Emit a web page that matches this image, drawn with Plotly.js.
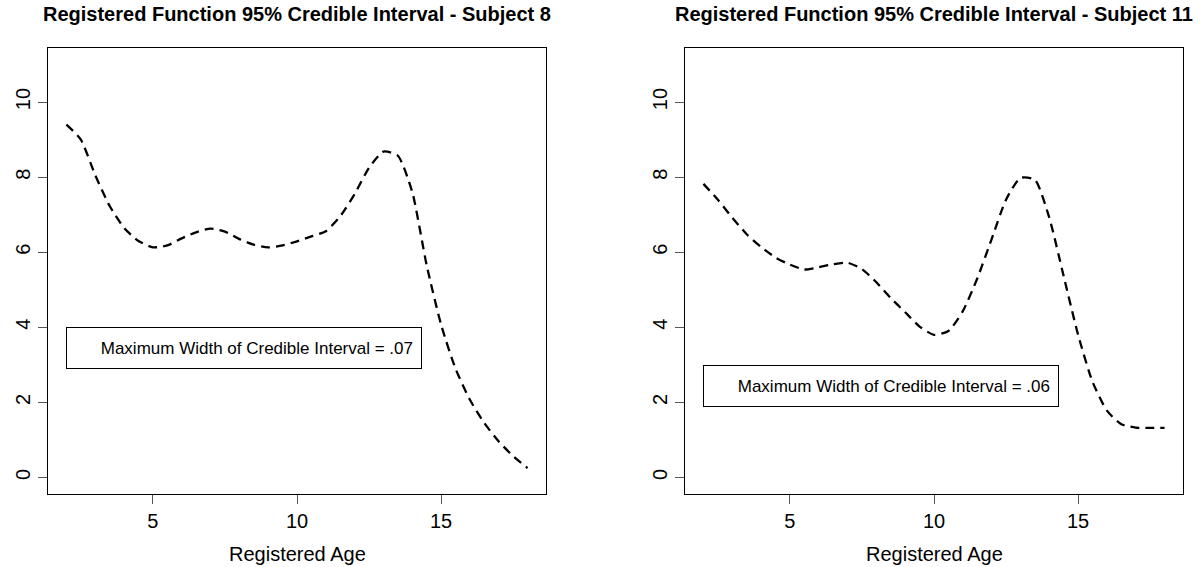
<!DOCTYPE html>
<html>
<head>
<meta charset="utf-8">
<script src="https://cdn.plot.ly/plotly-3.0.1.min.js"></script>
<style>html,body{margin:0;padding:0;background:#fff;}#chart{width:1200px;height:567px;}</style>
</head>
<body>
<div id="chart"></div>
<script>
// Registered age grid (shared by both subjects)
const age = [2, 2.5, 3, 3.5, 4, 4.5, 5, 5.5, 6, 6.5, 7, 7.5, 8, 8.5, 9, 9.5, 10,
             10.5, 11, 11.5, 12, 12.5, 13, 13.5, 14, 14.5, 15, 15.5, 16, 16.5, 17, 17.5, 18];
// Subject 8 registered function
const subject8 = [9.4, 9.0, 8.05, 7.23, 6.65, 6.3, 6.13, 6.18, 6.37, 6.53, 6.63, 6.55, 6.35, 6.2, 6.13, 6.18, 6.29,
                  6.42, 6.56, 6.96, 7.55, 8.25, 8.68, 8.57, 7.6, 5.65, 4.07, 2.9, 2.07, 1.45, 0.96, 0.57, 0.25];
// Subject 11 registered function
const subject11 = [7.82, 7.4, 6.92, 6.48, 6.14, 5.86, 5.67, 5.54, 5.6, 5.68, 5.72, 5.55, 5.2, 4.78, 4.4, 4.02, 3.8,
                   3.9, 4.43, 5.3, 6.35, 7.4, 7.98, 7.93, 6.92, 5.36, 3.8, 2.55, 1.78, 1.42, 1.33, 1.32, 1.32];

const titles = ["Registered Function 95% Credible Interval - Subject 8",
                "Registered Function 95% Credible Interval - Subject 11"];
const xLabel = "Registered Age";
const boxTexts = ["Maximum Width of Credible Interval = .07",
                  "Maximum Width of Credible Interval = .06"];
const boxX = [2, 2];
const boxY = [4, 3];
const yTicks = [0, 2, 4, 6, 8, 10];
const xTicks = [5, 10, 15];

const FONT = '"Liberation Sans", Arial, Helvetica, sans-serif';
const lineStyle = {color: '#000', width: 2.3, dash: '9px,6px', shape: 'spline', smoothing: 0.6};

const traces = [
  {x: age, y: subject8, type: 'scatter', mode: 'lines', line: lineStyle, xaxis: 'x', yaxis: 'y', hoverinfo: 'skip'},
  {x: age, y: subject11, type: 'scatter', mode: 'lines', line: lineStyle, xaxis: 'x2', yaxis: 'y2', hoverinfo: 'skip'}
];

function xa(domain) {
  return {domain: domain, range: [1.36, 18.64], tickvals: xTicks, ticktext: xTicks.map(String),
    ticks: 'outside', ticklen: 9, tickwidth: 1, tickcolor: '#555', showgrid: false, zeroline: false,
    showline: true, linecolor: '#000', linewidth: 1, mirror: true,
    tickfont: {family: FONT, size: 20, color: '#000'}, fixedrange: true};
}
function ya(domain, anchor) {
  return {domain: domain, anchor: anchor, range: [-0.44, 11.44], tickvals: yTicks, ticktext: yTicks.map(String),
    tickangle: -90, ticks: 'outside', ticklen: 9, tickwidth: 1, tickcolor: '#555', showgrid: false, zeroline: false,
    showline: true, linecolor: '#000', linewidth: 1, mirror: true,
    tickfont: {family: FONT, size: 20, color: '#000'}, fixedrange: true};
}

const xd1 = [48/1200, 546/1200];
const xd2 = [685/1200, 1183/1200];
const yd = [73/567, 519/567];

const annotations = [];
[xd1, xd2].forEach((d, i) => {
  const cx = (d[0] + d[1]) / 2;
  annotations.push({xref: 'paper', yref: 'paper', x: cx, y: 1 - 14/567, xanchor: 'center', yanchor: 'middle',
    text: '<b>' + titles[i] + '</b>', showarrow: false, font: {family: FONT, size: 20, color: '#000'}});
  annotations.push({xref: 'paper', yref: 'paper', x: cx, y: 13/567, xanchor: 'center', yanchor: 'middle',
    text: xLabel, showarrow: false, font: {family: FONT, size: 20, color: '#000'}});
  annotations.push({xref: i === 0 ? 'x' : 'x2', yref: i === 0 ? 'y' : 'y2', x: boxX[i], y: boxY[i],
    xanchor: 'left', yanchor: 'top', text: boxTexts[i], showarrow: false, align: 'right',
    width: 338, height: 24, borderpad: 8, bordercolor: '#000', borderwidth: 1, bgcolor: '#fff',
    font: {family: FONT, size: 17, color: '#000'}});
});

const layout = {
  width: 1200, height: 567, margin: {l: 0, r: 0, t: 0, b: 0},
  paper_bgcolor: '#fff', plot_bgcolor: '#fff', showlegend: false,
  font: {family: FONT, color: '#000'},
  xaxis: Object.assign(xa(xd1), {anchor: 'y'}),
  yaxis: ya(yd, 'x'),
  xaxis2: Object.assign(xa(xd2), {anchor: 'y2'}),
  yaxis2: ya(yd, 'x2'),
  annotations: annotations
};

Plotly.newPlot('chart', traces, layout, {staticPlot: true, displayModeBar: false});
</script>
</body>
</html>
